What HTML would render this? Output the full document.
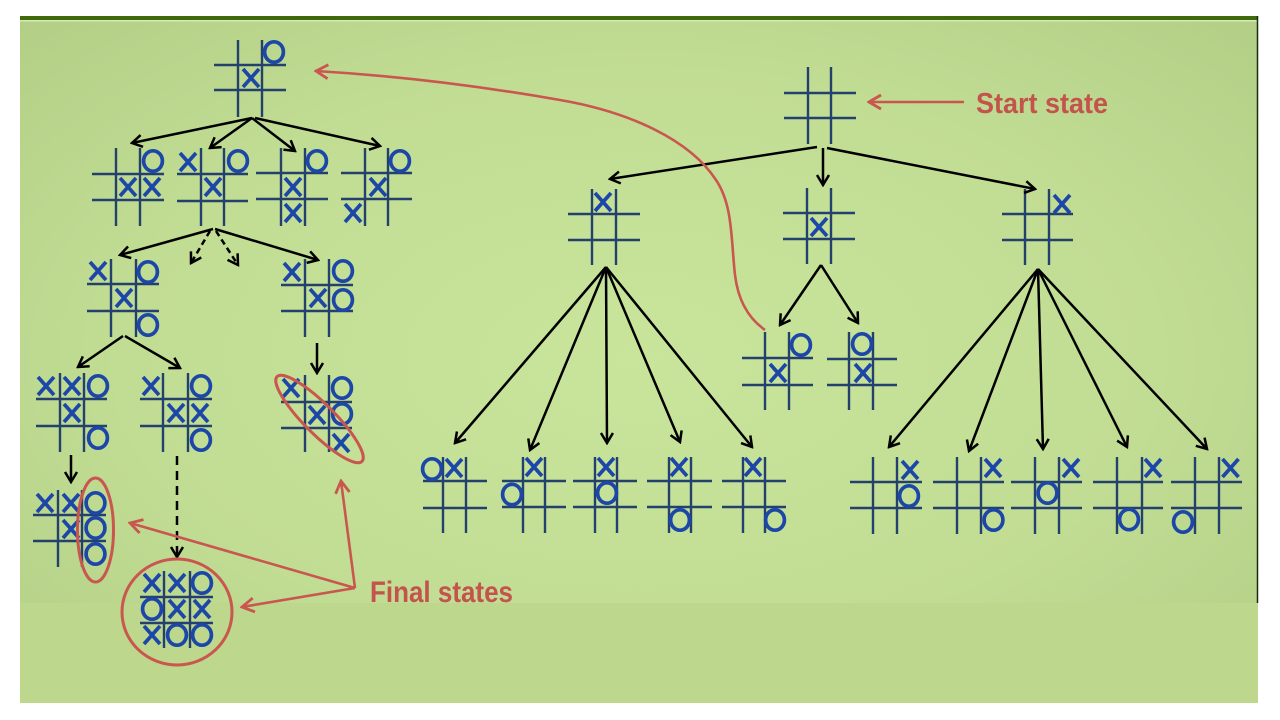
<!DOCTYPE html>
<html><head><meta charset="utf-8">
<style>
html,body{margin:0;padding:0;background:#fff;width:1280px;height:720px;overflow:hidden}
svg{display:block}
</style></head><body>
<svg width="1280" height="720" viewBox="0 0 1280 720" xmlns="http://www.w3.org/2000/svg">
<defs>
<radialGradient id="bg" cx="0.5" cy="0.5" r="0.7">
<stop offset="0" stop-color="#c9e59b"/>
<stop offset="0.6" stop-color="#c1dc93"/>
<stop offset="1" stop-color="#b3cf86"/>
</radialGradient>
<marker id="ab" viewBox="-12 -8 14 16" refX="0" refY="0" markerWidth="14" markerHeight="16" orient="auto" markerUnits="userSpaceOnUse">
<path d="M-10,-6 L0,0 L-10,6" fill="none" stroke="#000" stroke-width="2.5"/>
</marker>
<marker id="ar" viewBox="-14 -9 16 18" refX="0" refY="0" markerWidth="16" markerHeight="18" orient="auto" markerUnits="userSpaceOnUse">
<path d="M-12,-7 L0,0 L-12,7" fill="none" stroke="#c9564f" stroke-width="2.8"/>
</marker>
<path id="X" d="M-8,-9 L8,9 M8,-9 L-8,9"/>
<ellipse id="O" cx="0" cy="0" rx="9.4" ry="10.2"/>
</defs>

<!-- panel -->
<rect x="20" y="16" width="1238" height="687" fill="url(#bg)"/>
<rect x="20" y="603" width="1238" height="100" fill="#bdd78c"/>
<rect x="20" y="16" width="1238" height="4" fill="#3e6a0c"/>
<rect x="20" y="20" width="1238" height="1.5" fill="#d6e8b4"/>
<line x1="1257.5" y1="16" x2="1257.5" y2="603" stroke="#1d2a12" stroke-width="1.5"/>

<!-- board grids -->
<g stroke="#24406d" stroke-width="2.4" fill="none">
<path d="M238,40V117M262,40V117M214,65H286M214,90H286"/>
<path d="M116,148V226M140,148V226M92,174H164M92,200H164"/>
<path d="M201,148V226M224,148V226M177,174H248M177,201H248"/>
<path d="M281,148V226M305,148V226M256,173H328M256,199H328"/>
<path d="M365,148V226M388,148V226M341,173H412M341,199H412"/>
<path d="M111,259V337M136,259V337M87,284H159M87,311H159"/>
<path d="M305,259V337M329,259V337M281,285H353M281,311H353"/>
<path d="M60,373V452M84,373V452M36,399H107M36,426H107"/>
<path d="M163,373V452M188,373V452M140,399H212M140,426H212"/>
<path d="M305,375V452M329,375V452M281,402H352M281,428H352"/>
<path d="M58,490V567M82,490V567M33,515H106M33,541H106"/>
<path d="M164,571V648M190,571V648M140,597H213M140,623H213"/>
<path d="M808,67V144M831,67V144M784,93H856M784,118H856"/>
<path d="M592,189V265M616,189V265M568,214H640M568,240H640"/>
<path d="M807,188V264M831,188V264M783,213H855M783,239H855"/>
<path d="M1025,189V265M1049,189V265M1002,214H1073M1002,240H1073"/>
<path d="M765,332V410M789,332V410M742,358H813M742,385H813"/>
<path d="M849,332V410M873,332V410M827,359H897M827,385H897"/>
<path d="M443,457V533M466,457V533M423,481H487M423,508H487"/>
<path d="M523,457V533M545,457V533M502,481H566M502,507H566"/>
<path d="M595,457V533M617,457V533M573,481H637M573,507H637"/>
<path d="M669,457V533M691,457V533M647,481H712M647,507H712"/>
<path d="M743,457V533M765,457V533M722,481H786M722,507H786"/>
<path d="M873,457V534M897,457V534M850,482H922M850,508H922"/>
<path d="M957,457V534M981,457V534M933,482H1004M933,508H1004"/>
<path d="M1035,457V534M1059,457V534M1011,482H1082M1011,508H1082"/>
<path d="M1117,457V534M1142,457V534M1093,482H1163M1093,508H1163"/>
<path d="M1195,457V534M1219,457V534M1171,482H1242M1171,508H1242"/>
</g>

<!-- symbols -->
<g stroke="#1c47a8" stroke-width="3.7" fill="none">
<use href="#O" x="274" y="52"/><use href="#X" x="251" y="78"/>
<use href="#O" x="153" y="161"/><use href="#X" x="128" y="187"/><use href="#X" x="152" y="187"/>
<use href="#X" x="188" y="162"/><use href="#O" x="238" y="161"/><use href="#X" x="213" y="187"/>
<use href="#O" x="317" y="161"/><use href="#X" x="293" y="187"/><use href="#X" x="293" y="213"/>
<use href="#O" x="400" y="161"/><use href="#X" x="378" y="187"/><use href="#X" x="353" y="213"/>
<use href="#X" x="98" y="271"/><use href="#O" x="148" y="272"/><use href="#X" x="124" y="298"/><use href="#O" x="148" y="325"/>
<use href="#X" x="292" y="272"/><use href="#O" x="343" y="271"/><use href="#X" x="318" y="298"/><use href="#O" x="343" y="300"/>
<use href="#X" x="46" y="386"/><use href="#X" x="72" y="386"/><use href="#O" x="98" y="386"/><use href="#X" x="72" y="413"/><use href="#O" x="98" y="438"/>
<use href="#X" x="151" y="386"/><use href="#O" x="201" y="386"/><use href="#X" x="176" y="413"/><use href="#X" x="200" y="413"/><use href="#O" x="201" y="440"/>
<use href="#X" x="291" y="388"/><use href="#O" x="342" y="388"/><use href="#X" x="317" y="415"/><use href="#O" x="342" y="414"/><use href="#X" x="341" y="443"/>
<use href="#X" x="45" y="503"/><use href="#X" x="71" y="503"/><use href="#O" x="95.5" y="503"/><use href="#X" x="71" y="529"/><use href="#O" x="95.5" y="528"/><use href="#O" x="95.5" y="554"/>
<use href="#X" x="152" y="583"/><use href="#X" x="177" y="583"/><use href="#O" x="202" y="583"/>
<use href="#O" x="152" y="609"/><use href="#X" x="177" y="609"/><use href="#X" x="202" y="609"/>
<use href="#X" x="152" y="635"/><use href="#O" x="177" y="635"/><use href="#O" x="202" y="635"/>
<use href="#X" x="603" y="202"/><use href="#X" x="819" y="227"/><use href="#X" x="1062" y="204"/>
<use href="#O" x="801" y="345"/><use href="#X" x="778" y="373"/>
<use href="#O" x="862" y="344"/><use href="#X" x="863" y="373"/>
<use href="#O" x="432" y="469"/><use href="#X" x="454" y="468"/>
<use href="#X" x="534" y="467"/><use href="#O" x="512" y="494.5"/>
<use href="#X" x="606" y="467"/><use href="#O" x="607" y="493"/>
<use href="#X" x="679" y="467"/><use href="#O" x="680" y="520"/>
<use href="#X" x="753" y="467"/><use href="#O" x="775" y="520"/>
<use href="#X" x="910" y="470"/><use href="#O" x="909" y="496"/>
<use href="#X" x="993" y="468"/><use href="#O" x="993.5" y="520"/>
<use href="#X" x="1071" y="468"/><use href="#O" x="1047.5" y="493"/>
<use href="#X" x="1153" y="468"/><use href="#O" x="1129" y="519.5"/>
<use href="#X" x="1230.5" y="468"/><use href="#O" x="1183" y="522"/>
</g>

<!-- black arrows -->
<g stroke="#000" stroke-width="2.5" fill="none" marker-end="url(#ab)">
<line x1="252" y1="118" x2="132" y2="143"/>
<line x1="252" y1="118" x2="210" y2="148"/>
<line x1="252" y1="118" x2="295" y2="151"/>
<line x1="255" y1="118" x2="380" y2="146"/>
<line x1="213" y1="229" x2="120" y2="255"/>
<line x1="210" y1="231" x2="191" y2="263" stroke-dasharray="6 4"/>
<line x1="216" y1="231" x2="238" y2="265" stroke-dasharray="6 4"/>
<line x1="215" y1="229" x2="318" y2="260"/>
<line x1="123" y1="336" x2="78" y2="367"/>
<line x1="125" y1="336" x2="180" y2="368"/>
<line x1="317" y1="343" x2="317" y2="373"/>
<line x1="71" y1="455" x2="71" y2="482"/>
<line x1="177" y1="456" x2="177" y2="557" stroke-dasharray="9 6"/>
<line x1="817" y1="147" x2="610" y2="179"/>
<line x1="823" y1="148" x2="823" y2="185"/>
<line x1="827" y1="148" x2="1035" y2="189"/>
<line x1="606" y1="267" x2="455" y2="443"/>
<line x1="606" y1="267" x2="530" y2="450"/>
<line x1="606" y1="267" x2="607" y2="443"/>
<line x1="606" y1="267" x2="680" y2="442"/>
<line x1="606" y1="267" x2="752" y2="447"/>
<line x1="821" y1="265" x2="780" y2="325"/>
<line x1="821" y1="265" x2="858" y2="323"/>
<line x1="1038" y1="269" x2="889" y2="447"/>
<line x1="1038" y1="269" x2="969" y2="451"/>
<line x1="1038" y1="269" x2="1043" y2="449"/>
<line x1="1038" y1="269" x2="1127" y2="447"/>
<line x1="1038" y1="269" x2="1207" y2="449"/>
</g>

<!-- red annotations -->
<g stroke="#c9564f" stroke-width="3" fill="none">
<ellipse cx="95.5" cy="530" rx="18" ry="52"/>
<ellipse cx="319.5" cy="419" rx="60" ry="15" transform="rotate(45 319.5 419)"/>
<ellipse cx="177" cy="612" rx="55" ry="53"/>
</g>
<g stroke="#c9564f" stroke-width="2.6" fill="none" marker-end="url(#ar)">
<line x1="964" y1="102" x2="869" y2="102"/>
<path d="M765,330 C748,318 738,300 735,275 C731,240 733,205 716,180 C690,140 630,112 560,100 C480,86 400,76 316,71"/>
<line x1="355" y1="588" x2="130" y2="523"/>
<line x1="355" y1="588" x2="242" y2="607"/>
<line x1="355" y1="588" x2="341" y2="481"/>
</g>

<text x="976" y="113" font-family="Liberation Sans, sans-serif" font-weight="bold" font-size="29" textLength="132" lengthAdjust="spacingAndGlyphs" fill="#c4524d">Start state</text>
<text x="370" y="602" font-family="Liberation Sans, sans-serif" font-weight="bold" font-size="30" textLength="143" lengthAdjust="spacingAndGlyphs" fill="#c4524d">Final states</text>
</svg>
</body></html>
